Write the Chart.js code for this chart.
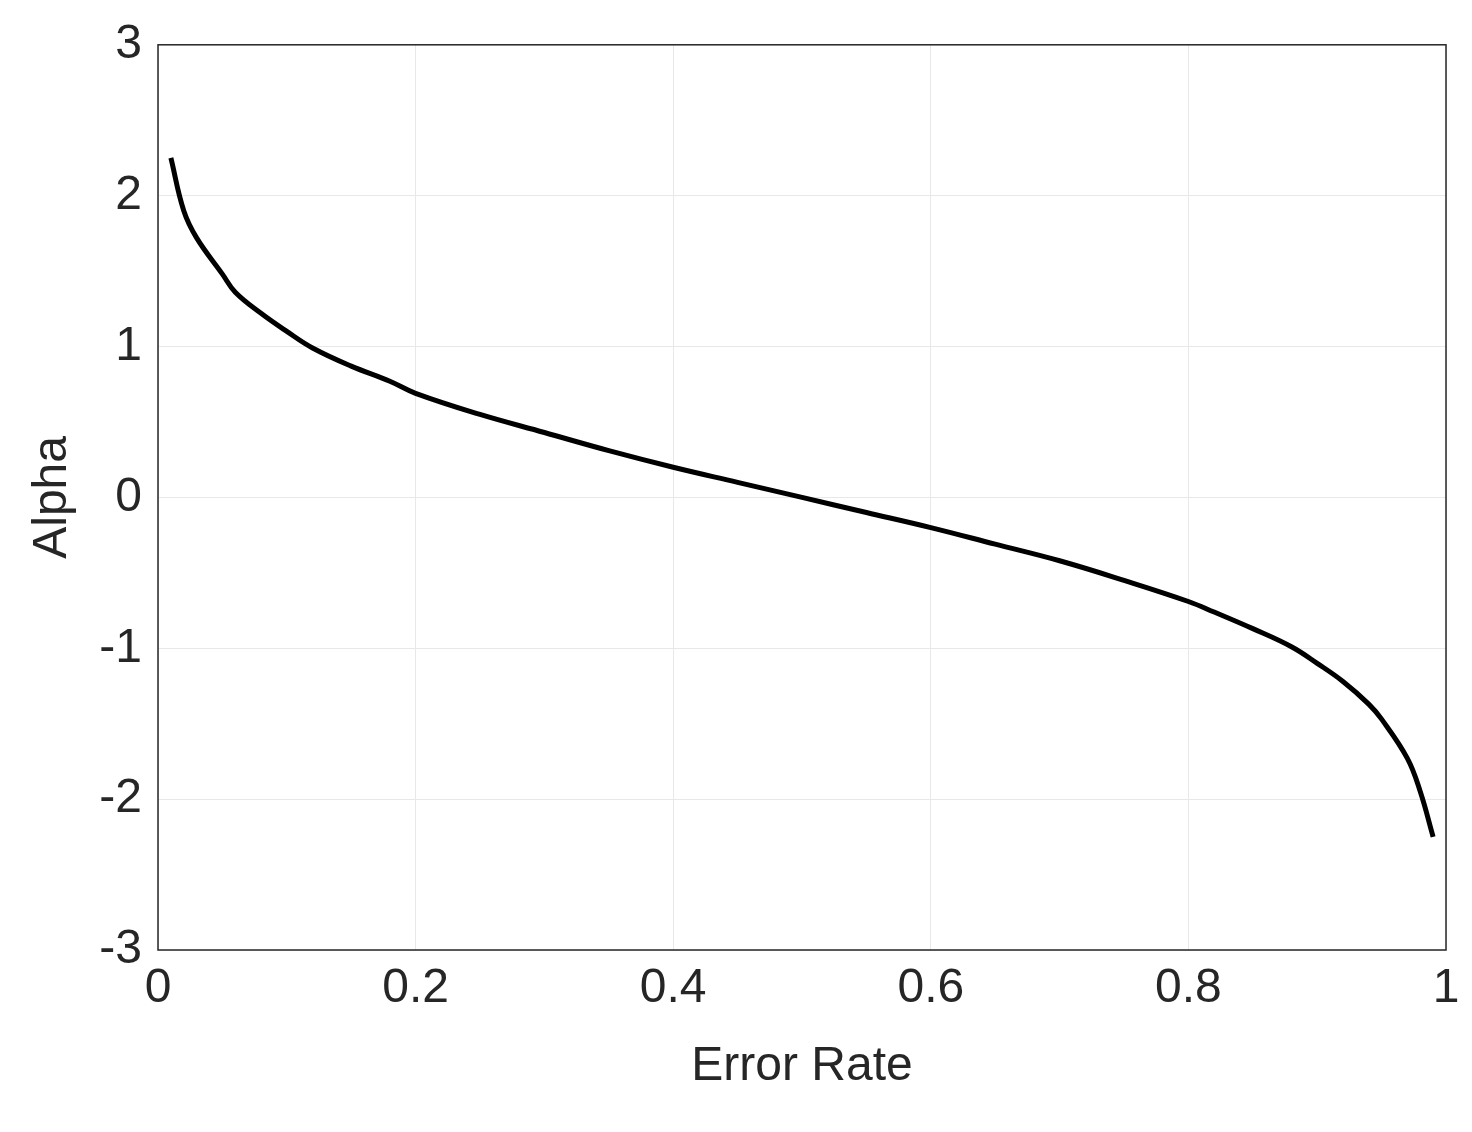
<!DOCTYPE html>
<html>
<head>
<meta charset="utf-8">
<script src="https://cdn.jsdelivr.net/npm/chart.js@4"></script>
<style>
  html, body { margin: 0; padding: 0; background: #fff; }
  #wrap { width: 1472px; height: 1132px; }
</style>
</head>
<body>
<div id="wrap"><canvas id="chart"></canvas></div>
<script>
// Values
const errorRate = [0.01, 0.02, 0.03, 0.05, 0.06, 0.08, 0.1, 0.12, 0.15, 0.18, 0.2, 0.25, 0.3, 0.35, 0.4, 0.45, 0.5,
  0.55, 0.6, 0.65, 0.7, 0.75, 0.8, 0.82, 0.85, 0.88, 0.9, 0.92, 0.94, 0.95, 0.97, 0.98, 0.99];
const alphaValues = [2.25, 1.9, 1.72, 1.48, 1.36, 1.22, 1.1, 0.99, 0.87, 0.77, 0.69, 0.55, 0.43, 0.31, 0.2, 0.1, 0.0,
  -0.1, -0.2, -0.31, -0.42, -0.55, -0.69, -0.76, -0.87, -0.99, -1.1, -1.22, -1.37, -1.47, -1.73, -1.95, -2.25];
const xTicks = [0, 0.2, 0.4, 0.6, 0.8, 1];
const yTicks = [-3, -2, -1, 0, 1, 2, 3];

const font = { family: 'Arial, "Liberation Sans", sans-serif', size: 48 };

// draw the box around the plot like MATLAB does
const boxPlugin = {
  id: 'box',
  afterDraw(chart) {
    const a = chart.chartArea, ctx = chart.ctx;
    ctx.save();
    ctx.strokeStyle = '#262626';
    ctx.lineWidth = 1.5;
    ctx.strokeRect(a.left, a.top, a.right - a.left, a.bottom - a.top);
    ctx.restore();
  }
};

new Chart(document.getElementById('chart'), {
  type: 'line',
  data: {
    datasets: [{
      data: errorRate.map((x, i) => ({ x: x, y: alphaValues[i] })),
      borderColor: '#000',
      borderWidth: 5,
      pointRadius: 0,
      tension: 0.4,
      fill: false
    }]
  },
  options: {
    responsive: true,
    maintainAspectRatio: false,
    animation: false,
    layout: { padding: { top: 40, right: 26, bottom: 32, left: 20 } },
    plugins: { legend: { display: false }, tooltip: { enabled: false } },
    scales: {
      x: {
        type: 'linear', min: 0, max: 1,
        afterBuildTicks: s => { s.ticks = xTicks.map(v => ({ value: v })); },
        afterFit: s => { s.height = 150; },
        grid: { color: '#e8e8e8', drawTicks: false },
        border: { display: false },
        ticks: { font: font, color: '#262626', padding: 10, maxRotation: 0, callback: v => String(v) },
        title: { display: true, text: 'Error Rate', font: font, color: '#262626', padding: { top: 0 } }
      },
      y: {
        type: 'linear', min: -3, max: 3,
        afterBuildTicks: s => { s.ticks = yTicks.map(v => ({ value: v })); },
        afterFit: s => { s.width = 138; },
        grid: { color: '#e8e8e8', drawTicks: false },
        border: { display: false },
        ticks: { font: font, color: '#262626', padding: 16, callback: v => String(v) },
        title: { display: true, text: 'Alpha', font: font, color: '#262626', padding: { bottom: 0 } }
      }
    }
  },
  plugins: [boxPlugin]
});
</script>
</body>
</html>
